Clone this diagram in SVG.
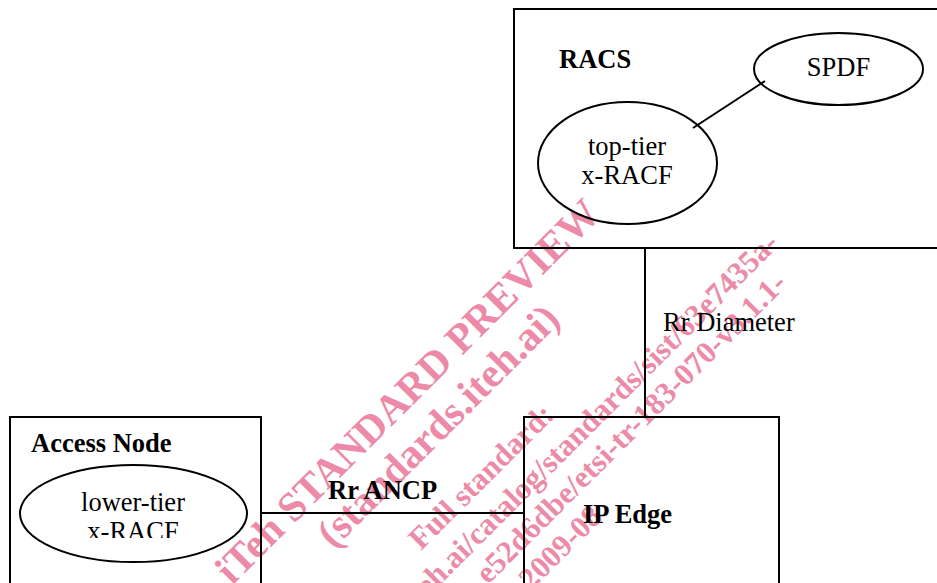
<svg xmlns="http://www.w3.org/2000/svg" width="937" height="583" viewBox="0 0 937 583">
  <defs>
    <style>
      .box { fill: none; stroke: #000; stroke-width: 2; }
      .ell { fill: none; stroke: #000; stroke-width: 2; }
      .conn { fill: none; stroke: #000; stroke-width: 2; }
      .lbl { font-family: "Liberation Serif", "Times New Roman", serif; font-size: 26.5px; fill: #000; }
      .bold { font-weight: bold; }
      .mid { text-anchor: middle; }
      .wm { font-family: "Liberation Serif", "Times New Roman", serif; font-weight: bold; fill: #ec8aa8; }
      .wm1 { font-size: 41.5px; }
      .wm2 { font-size: 31px; }
    </style>
    <clipPath id="clipLower">
      <rect x="0" y="0" width="300" height="538"/>
    </clipPath>
  </defs>
  <rect x="0" y="0" width="937" height="583" fill="#fff"/>

  <g id="watermark">
    <text class="wm wm1" x="232" y="586" transform="rotate(-45 232 586)">iTeh STANDARD PREVIEW</text>
    <text class="wm wm1" x="333.5" y="549.5" transform="rotate(-45 333.5 549.5)">(standards.iteh.ai)</text>
    <text class="wm wm2" x="421" y="551" transform="rotate(-45 421 551)">Full standard:</text>
    <text class="wm wm2" x="780" y="245" text-anchor="end" transform="rotate(-45 780 245)">https://standards.iteh.ai/catalog/standards/sist/63e7435a-</text>
    <text class="wm wm2" x="788" y="285" text-anchor="end" transform="rotate(-45 788 285)">e52d6dbe/etsi-tr-183-070-v3.1.1-</text>
    <text class="wm wm2" x="604" y="518" text-anchor="end" transform="rotate(-45 604 518)">2009-08</text>
  </g>

  <g id="connectors">
    <line class="conn" x1="765" y1="81" x2="693" y2="128"/>
    <line class="conn" x1="645" y1="248" x2="645" y2="417"/>
    <line class="conn" x1="261" y1="513" x2="524" y2="513"/>
    <text class="lbl" x="663" y="331">Rr Diameter</text>
    <text class="lbl bold" x="328" y="499">Rr ANCP</text>
  </g>

  <g id="racs">
    <rect class="box" x="514" y="9" width="440" height="239"/>
    <text class="lbl bold" x="559" y="68">RACS</text>
  </g>

  <g id="spdf">
    <ellipse class="ell" cx="838.5" cy="69" rx="84.5" ry="36"/>
    <text class="lbl mid" x="838.5" y="76">SPDF</text>
  </g>

  <g id="top-tier-xracf">
    <ellipse class="ell" cx="627.5" cy="163" rx="89.5" ry="61"/>
    <text class="lbl mid" x="627" y="155">top-tier</text>
    <text class="lbl mid" x="627" y="184">x-RACF</text>
  </g>

  <g id="access-node">
    <rect class="box" x="10" y="417" width="251" height="200"/>
    <text class="lbl bold" x="31" y="452">Access Node</text>
  </g>

  <g id="lower-tier-xracf">
    <ellipse class="ell" cx="133.5" cy="513.5" rx="113.5" ry="48.5"/>
    <g clip-path="url(#clipLower)">
      <text class="lbl mid" x="133" y="511">lower-tier</text>
      <text class="lbl mid" x="133" y="540">x-RACF</text>
    </g>
  </g>

  <g id="ip-edge">
    <rect class="box" x="524" y="417" width="255" height="200"/>
    <text class="lbl bold" x="583" y="523">IP Edge</text>
  </g>
</svg>
